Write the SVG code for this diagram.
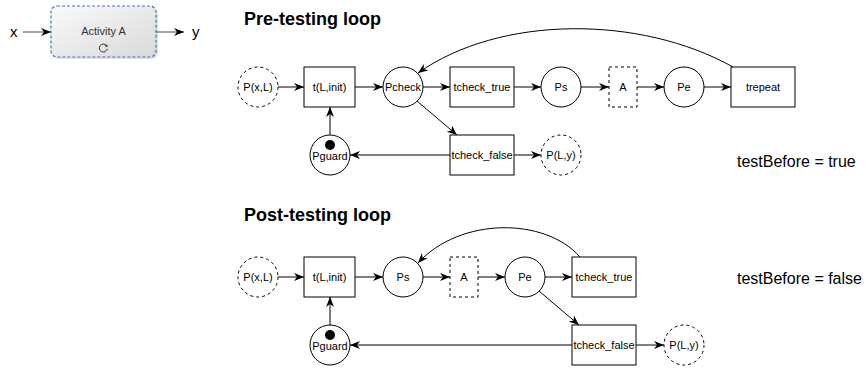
<svg xmlns="http://www.w3.org/2000/svg" width="866" height="368" viewBox="0 0 866 368">
<style>
  .n { fill: #fff; stroke: #000; stroke-width: 1; }
  .d { stroke-dasharray: 3 3; }
  .t { font-family: "Liberation Sans", Arial, sans-serif; font-size: 11px; fill: #000; text-anchor: middle; }
  .h { font-family: "Liberation Sans", Arial, sans-serif; font-size: 18px; font-weight: bold; fill: #000; }
  .b { font-family: "Liberation Sans", Arial, sans-serif; font-size: 16px; fill: #000; }
  .e { fill: none; stroke: #000; stroke-width: 1; marker-end: url(#arr); }
</style>
<defs>
  <marker id="arr" viewBox="0 0 10 8" refX="10" refY="4" markerWidth="10" markerHeight="8" orient="auto" markerUnits="userSpaceOnUse">
    <path d="M0,0 L10,4 L0,8 L3,4 z" fill="#000"/>
  </marker>
  <linearGradient id="grad" x1="0" y1="0" x2="1" y2="1">
    <stop offset="0" stop-color="#fafafa"/>
    <stop offset="1" stop-color="#d9d9d9"/>
  </linearGradient>
</defs>
<rect width="866" height="368" fill="#fff"/>

<!-- Activity A legend -->
<g id="legend">
  <text x="10" y="37" class="b" style="font-size:15px">x</text>
  <line x1="23" y1="32" x2="51" y2="32" stroke="#666" stroke-width="1.2" marker-end="url(#arr)"/>
  <rect x="53" y="8" width="105" height="51" rx="6" fill="#000" opacity="0.12"/>
  <rect x="51" y="6" width="105" height="51" rx="6" fill="url(#grad)" stroke="#4a70c4" stroke-width="1.2" stroke-dasharray="3 2"/>
  <text x="103.5" y="35" class="t" style="fill:#333">Activity A</text>
  <path d="M106.5 45.6 A4 4 0 1 0 107.3 48.8" fill="none" stroke="#333" stroke-width="1"/>
  <path d="M104.8 45.2 L107.6 44.4 L107.2 47.4 z" fill="#333"/>
  <line x1="156" y1="32" x2="184" y2="32" stroke="#666" stroke-width="1.2" marker-end="url(#arr)"/>
  <text x="192" y="37" class="b" style="font-size:15px">y</text>
</g>

<text x="244" y="25" class="h">Pre-testing loop</text>
<text x="244" y="221" class="h">Post-testing loop</text>
<text x="737" y="167" class="b">testBefore = true</text>
<text x="737" y="284" class="b">testBefore = false</text>

<!-- connectors -->
<g id="connectors">
  <!-- pre-testing -->
  <line class="e" x1="278" y1="87" x2="304" y2="87"/>
  <line class="e" x1="355" y1="87" x2="383" y2="87"/>
  <line class="e" x1="423" y1="87" x2="450" y2="87"/>
  <line class="e" x1="514" y1="87" x2="541" y2="87"/>
  <line class="e" x1="581" y1="87" x2="609" y2="87"/>
  <line class="e" x1="637" y1="87" x2="664" y2="87"/>
  <line class="e" x1="704" y1="87" x2="731" y2="87"/>
  <path class="e" d="M733 67 C640 15 500 15 418 73"/>
  <line class="e" x1="417" y1="101" x2="457" y2="135"/>
  <line class="e" x1="450" y1="155" x2="350" y2="155"/>
  <line class="e" x1="514" y1="155" x2="541" y2="155"/>
  <line class="e" x1="330" y1="135" x2="330" y2="107"/>
  <!-- post-testing -->
  <line class="e" x1="278" y1="277" x2="304" y2="277"/>
  <line class="e" x1="355" y1="277" x2="383" y2="277"/>
  <line class="e" x1="423" y1="277" x2="450" y2="277"/>
  <line class="e" x1="478" y1="277" x2="505" y2="277"/>
  <line class="e" x1="545" y1="277" x2="572" y2="277"/>
  <path class="e" d="M580 257 C545 217 460 217 418 263"/>
  <line class="e" x1="539" y1="291" x2="579" y2="325"/>
  <line class="e" x1="572" y1="345" x2="350" y2="345"/>
  <line class="e" x1="636" y1="345" x2="664" y2="345"/>
  <line class="e" x1="330" y1="325" x2="330" y2="297"/>
</g>

<!-- pre-testing nodes -->
<g id="pre-Pxl"><circle class="n d" cx="258" cy="87" r="20"/><text class="t" x="258" y="91">P(x,L)</text></g>
<g id="pre-tinit"><rect class="n" x="304" y="67" width="51" height="40"/><text class="t" x="329.5" y="91">t(L,init)</text></g>
<g id="pre-Pcheck"><circle class="n" cx="403" cy="87" r="20"/><text class="t" x="403" y="91">Pcheck</text></g>
<g id="pre-tcheck-true"><rect class="n" x="450" y="67" width="64" height="40"/><text class="t" x="482" y="91">tcheck_true</text></g>
<g id="pre-Ps"><circle class="n" cx="561" cy="87" r="20"/><text class="t" x="561" y="91">Ps</text></g>
<g id="pre-A"><rect class="n d" x="609" y="67" width="28" height="40"/><text class="t" x="623" y="91">A</text></g>
<g id="pre-Pe"><circle class="n" cx="684" cy="87" r="20"/><text class="t" x="684" y="91">Pe</text></g>
<g id="pre-trepeat"><rect class="n" x="731" y="67" width="64" height="40"/><text class="t" x="763" y="91">trepeat</text></g>
<g id="pre-Pguard"><circle class="n" cx="330" cy="155" r="20"/><circle cx="330" cy="145" r="5" fill="#000"/><text class="t" x="330" y="160">Pguard</text></g>
<g id="pre-tcheck-false"><rect class="n" x="450" y="135" width="64" height="40"/><text class="t" x="482" y="159">tcheck_false</text></g>
<g id="pre-Ply"><circle class="n d" cx="561" cy="155" r="20"/><text class="t" x="561" y="159">P(L,y)</text></g>

<!-- post-testing nodes -->
<g id="post-Pxl"><circle class="n d" cx="258" cy="277" r="20"/><text class="t" x="258" y="281">P(x,L)</text></g>
<g id="post-tinit"><rect class="n" x="304" y="257" width="51" height="40"/><text class="t" x="329.5" y="281">t(L,init)</text></g>
<g id="post-Ps"><circle class="n" cx="403" cy="277" r="20"/><text class="t" x="403" y="281">Ps</text></g>
<g id="post-A"><rect class="n d" x="450" y="257" width="28" height="40"/><text class="t" x="464" y="281">A</text></g>
<g id="post-Pe"><circle class="n" cx="525" cy="277" r="20"/><text class="t" x="525" y="281">Pe</text></g>
<g id="post-tcheck-true"><rect class="n" x="572" y="257" width="64" height="40"/><text class="t" x="604" y="281">tcheck_true</text></g>
<g id="post-Pguard"><circle class="n" cx="330" cy="345" r="20"/><circle cx="330" cy="335" r="5" fill="#000"/><text class="t" x="330" y="350">Pguard</text></g>
<g id="post-tcheck-false"><rect class="n" x="572" y="325" width="64" height="40"/><text class="t" x="604" y="349">tcheck_false</text></g>
<g id="post-Ply"><circle class="n d" cx="684" cy="345" r="20"/><text class="t" x="684" y="349">P(L,y)</text></g>
</svg>
